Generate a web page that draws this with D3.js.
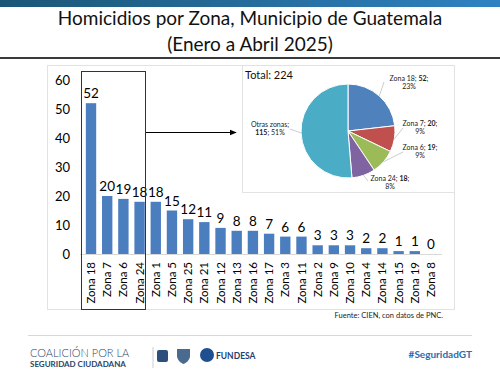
<!DOCTYPE html>
<html>
<head>
	<meta charset="utf-8">
	<title>Homicidios por Zona</title>
	<script src="https://cdn.jsdelivr.net/npm/d3@7"></script>
	<style>
		body { margin: 0; background: #fff; }
		svg { display: block; font-family: Lato, "Open Sans", sans-serif; }
	</style>
</head>
<body>
	<div id="chart"></div>
	<script>

		// data
		const zonas = ["Zona 18", "Zona 7", "Zona 6", "Zona 24", "Zona 1", "Zona 5", "Zona 25", "Zona 21",
			"Zona 12", "Zona 13", "Zona 16", "Zona 17", "Zona 3", "Zona 11", "Zona 2", "Zona 9",
			"Zona 10", "Zona 4", "Zona 14", "Zona 15", "Zona 19", "Zona 8"];
		const homicidios = [52, 20, 19, 18, 18, 15, 12, 11, 9, 8, 8, 7, 6, 6, 3, 3, 3, 2, 2, 1, 1, 0];
		const yTicks = [0, 10, 20, 30, 40, 50, 60];

		const pieLabels = ["Zona 18", "Zona 7", "Zona 6", "Zona 24", "Otras zonas"];
		const pieValues = [52, 20, 19, 18, 115];
		const piePct = ["23%", "9%", "9%", "8%", "51%"];
		const pieColors = ["#4f81bd", "#c0504d", "#9bbb59", "#8064a2", "#4bacc6"];

		const width = 500, height = 375;

		const svg = d3.select("#chart").append("svg")
			.attr("width", width)
			.attr("height", height)
			.attr("viewBox", [0, 0, width, height]);

		// header band
		const grad = svg.append("defs").append("linearGradient").attr("id", "band");
		grad.append("stop").attr("offset", "0%").attr("stop-color", "#1b5676");
		grad.append("stop").attr("offset", "100%").attr("stop-color", "#2f82c2");
		svg.append("rect").attr("width", width).attr("height", 7).attr("fill", "url(#band)");

		svg.append("text").attr("x", 250).attr("y", 25).attr("text-anchor", "middle")
			.attr("font-size", 19).attr("fill", "#111").text("Homicidios por Zona, Municipio de Guatemala");
		svg.append("text").attr("x", 250).attr("y", 51).attr("text-anchor", "middle")
			.attr("font-size", 19).attr("fill", "#111").text("(Enero a Abril 2025)");
		svg.append("rect").attr("x", 0).attr("y", 57).attr("width", width).attr("height", 2).attr("fill", "#3a3a3a");

		// chart frame
		svg.append("rect").attr("x", 47.5).attr("y", 65.5).attr("width", 407).attr("height", 244)
			.attr("fill", "none").attr("stroke", "#e2e2e2");

		const x = d3.scaleBand().domain(zonas).range([80, 442]).padding(0.36);
		const y = d3.scaleLinear().domain([0, 60]).range([254, 80]);

		// y axis labels
		svg.append("g")
			.attr("transform", "translate(70,0)")
			.call(d3.axisLeft(y).tickValues(yTicks).tickSize(0).tickPadding(0))
			.call(g => g.select(".domain").remove())
			.call(g => g.selectAll("text").attr("font-size", 13).attr("fill", "#000")
				.attr("font-family", "Lato, sans-serif"));

		// bars
		svg.append("g").selectAll("rect").data(homicidios).join("rect")
			.attr("x", (d, i) => x(zonas[i]))
			.attr("y", d => y(d))
			.attr("width", x.bandwidth())
			.attr("height", d => y(0) - y(d))
			.attr("fill", "#4a7ebf");

		svg.append("g").selectAll("text").data(homicidios).join("text")
			.attr("x", (d, i) => x(zonas[i]) + x.bandwidth() / 2)
			.attr("y", d => y(d) - 5)
			.attr("text-anchor", "middle")
			.attr("font-size", 13.5)
			.attr("fill", "#000")
			.text(d => d);

		// x axis
		svg.append("g")
			.attr("transform", `translate(0,${y(0)})`)
			.call(d3.axisBottom(x).tickSize(0).tickPadding(0))
			.call(g => g.select(".domain").attr("stroke", "#d9d9d9").attr("d", "M80,0.5H442"))
			.call(g => g.selectAll("text")
				.attr("transform", "rotate(-90)")
				.attr("x", -8).attr("y", 0).attr("dy", "0.35em")
				.attr("text-anchor", "end")
				.attr("font-size", 11.5)
				.attr("font-family", "Lato, sans-serif")
				.attr("fill", "#000"));

		// highlight box + arrow
		svg.append("rect").attr("x", 81.5).attr("y", 71.5).attr("width", 64).attr("height", 238)
			.attr("fill", "none").attr("stroke", "#333").attr("stroke-width", 1);
		svg.append("defs").append("marker").attr("id", "arr")
			.attr("viewBox", "0 0 10 10").attr("refX", 9).attr("refY", 5)
			.attr("markerWidth", 6).attr("markerHeight", 6).attr("orient", "auto")
			.append("path").attr("d", "M0,1L10,5L0,9Z").attr("fill", "#000");
		svg.append("line").attr("x1", 146).attr("x2", 236).attr("y1", 132.5).attr("y2", 132.5)
			.attr("stroke", "#000").attr("stroke-width", 1.2).attr("marker-end", "url(#arr)");

		// pie inset
		svg.append("rect").attr("x", 242.5).attr("y", 65.5).attr("width", 212).attr("height", 127)
			.attr("fill", "#fff").attr("stroke", "#e2e2e2");
		svg.append("text").attr("x", 245).attr("y", 79).attr("font-size", 11).attr("fill", "#111")
			.text("Total: " + d3.sum(pieValues));

		const pie = d3.pie().sort(null)(pieValues);
		const r = 47;
		const cx = 348, cy = 131;
		const arc = d3.arc().innerRadius(0).outerRadius(r);
		const pg = svg.append("g").attr("transform", `translate(${cx},${cy})`);
		pg.selectAll("path").data(pie).join("path")
			.attr("d", arc)
			.attr("fill", (d, i) => pieColors[i])
			.attr("stroke", "#fff").attr("stroke-width", 1);

		// pie labels: [centre x, first line y]
		const labelPos = [
			[409, 81],
			[420, 126],
			[420, 150],
			[390, 181],
			[270, 127]
		];
		pie.forEach((d, i) => {
			const [lx, ly] = labelPos[i];
			const t = pg.append("text").attr("x", lx - cx).attr("y", ly - cy)
				.attr("text-anchor", "middle").attr("font-size", 7).attr("fill", "#222");
			if (i === 4) {
				t.append("tspan").text(pieLabels[i] + ";");
				const t2 = t.append("tspan").attr("x", lx - cx).attr("dy", 8);
				t2.append("tspan").attr("font-weight", "bold").text(pieValues[i]);
				t2.append("tspan").text("; " + piePct[i]);
			} else {
				t.append("tspan").text(pieLabels[i] + "; ");
				t.append("tspan").attr("font-weight", "bold").text(pieValues[i]);
				t.append("tspan").text(";");
				t.append("tspan").attr("x", lx - cx).attr("dy", 8).text(piePct[i]);
			}
		});
		// leader lines
		const outer = d3.arc().innerRadius(r).outerRadius(r);
		const leaderEnds = [
			[384 - cx, 82 - cy],
			[403 - cx, 128 - cy],
			[403 - cx, 152 - cy],
			[368 - cx, 181 - cy],
			[290 - cx, 129 - cy]
		];
		pie.forEach((d, i) => {
			const p = outer.centroid(d);
			const end = leaderEnds[i];
			pg.append("line").attr("x1", p[0]).attr("y1", p[1]).attr("x2", end[0]).attr("y2", end[1])
				.attr("stroke", "#aaa").attr("stroke-width", 0.6);
		});

		// source
		svg.append("text").attr("x", 443).attr("y", 318).attr("text-anchor", "end")
			.attr("font-size", 7.5).attr("fill", "#222").text("Fuente: CIEN, con datos de PNC.");

		// footer
		svg.append("line").attr("x1", 28).attr("x2", 472).attr("y1", 335.5).attr("y2", 335.5)
			.attr("stroke", "#d8d8d8");
		svg.append("text").attr("x", 30).attr("y", 357).attr("font-size", 11).attr("fill", "#27466a")
			.attr("font-weight", 300).text("COALICIÓN POR LA");
		svg.append("text").attr("x", 30).attr("y", 367).attr("font-size", 8).attr("fill", "#27466a")
			.attr("font-weight", "bold").text("SEGURIDAD CIUDADANA");
		svg.append("line").attr("x1", 153).attr("x2", 153).attr("y1", 347).attr("y2", 368).attr("stroke", "#ccc");
		svg.append("rect").attr("x", 157).attr("y", 350).attr("width", 11).attr("height", 12).attr("rx", 2).attr("fill", "#2d4f7c");
		svg.append("path").attr("d", "M177,349h13v7c0,5-6,8-6.5,8c-0.5,0-6.5-3-6.5-8z").attr("fill", "#4a6a90");
		svg.append("circle").attr("cx", 207).attr("cy", 355).attr("r", 7).attr("fill", "#1f4f8f");
		svg.append("text").attr("x", 216).attr("y", 358.5).attr("font-size", 8.5).attr("font-weight", "bold")
			.attr("fill", "#1f3f6f").text("FUNDESA");
		svg.append("text").attr("x", 472).attr("y", 358).attr("text-anchor", "end").attr("font-size", 10)
			.attr("font-weight", "bold").attr("fill", "#2a6db0").text("#SeguridadGT");

	</script>
</body>
</html>
